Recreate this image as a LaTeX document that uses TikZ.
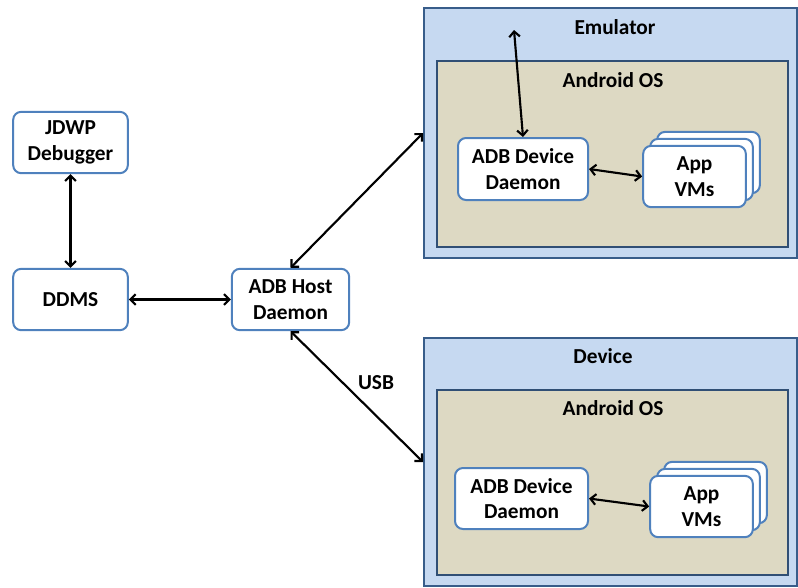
\documentclass[tikz,border=0pt]{standalone}
\usepackage{fontspec}
\setmainfont{Carlito}
\usetikzlibrary{arrows.meta,positioning}
\definecolor{adbEdge}{HTML}{4F81BD}
\definecolor{adbNavy}{HTML}{385D8A}
\definecolor{adbSky}{HTML}{C6D9F1}
\definecolor{adbSand}{HTML}{DDD9C3}

\begin{document}
\begin{tikzpicture}[x=0.75pt, y=-0.75pt,
  font=\fontsize{16}{19}\selectfont\bfseries,
  box/.style={draw=adbEdge, line width=1.5pt, rounded corners=6pt, fill=white,
              align=center, inner sep=2pt, minimum width=86pt, minimum height=46pt},
  vm/.style={box, minimum width=77pt, minimum height=46pt},
  shell/.style={draw=adbNavy, line width=1.2pt, fill=adbSky, inner sep=0pt},
  os/.style={draw=adbNavy!85!black, line width=1.2pt, fill=adbSand, inner sep=0pt},
  title/.style={inner sep=0pt},
  arr/.style={{Straight Barb[length=4pt,width=8pt]}-{Straight Barb[length=4pt,width=8pt]},
              line width=1.6pt}
]
  \useasboundingbox (0,0) rectangle (798,587);

  % host side
  \node[box] (jdwp) at (70.5,142.5) {JDWP\\Debugger};
  \node[box] (ddms) at (70.5,299.5) {DDMS};
  \node[box, minimum width=88pt] (host) at (290.5,299.5) {ADB Host\\Daemon};

  % emulator
  \node[shell, minimum width=280pt, minimum height=187.5pt] (emu) at (610.5,133) {};
  \node[title] at (615,27) {Emulator};
  \node[os, minimum width=263pt, minimum height=139.5pt] (emuos) at (612.5,154) {};
  \node[title] at (613,80) {Android OS};
  \node[box, minimum width=97.5pt, minimum height=46.5pt] (emuadb) at (523,169) {ADB Device\\Daemon};
  \node[vm] (emuvmsc) at (708.5,162.5) {};
  \node[vm] (emuvmsb) at (701.5,169.5) {};
  \node[vm] (emuvms) at (694.5,176.5) {App\\VMs};
  \coordinate (emutop) at (514,30);

  % device
  \node[shell, minimum width=280pt, minimum height=186pt] (dev) at (610.5,462) {};
  \node[title] at (603,356) {Device};
  \node[os, minimum width=263pt, minimum height=138.75pt] (devos) at (612.5,482.5) {};
  \node[title] at (613,408) {Android OS};
  \node[box, minimum width=99.75pt, minimum height=45.75pt] (devadb) at (521.5,498.5) {ADB Device\\Daemon};
  \node[vm] (devvmsc) at (715.5,492.5) {};
  \node[vm] (devvmsb) at (708.5,499.5) {};
  \node[vm] (devvms) at (701.5,506.5) {App\\VMs};
  \node[title] (usb) at (376,383) {USB};

  \draw[arr] (jdwp) -- (ddms);
  \draw[arr] (ddms) -- (host);
  \draw[arr] (host.north) -- (emu.west);
  \draw[arr] (host.south) -- (dev.west);
  \draw[arr] (emutop) -- (emuadb.north);
  \draw[arr] (emuadb.east) -- (emuvms.west);
  \draw[arr] (devadb.east) -- (devvms.west);
\end{tikzpicture}
\end{document}
